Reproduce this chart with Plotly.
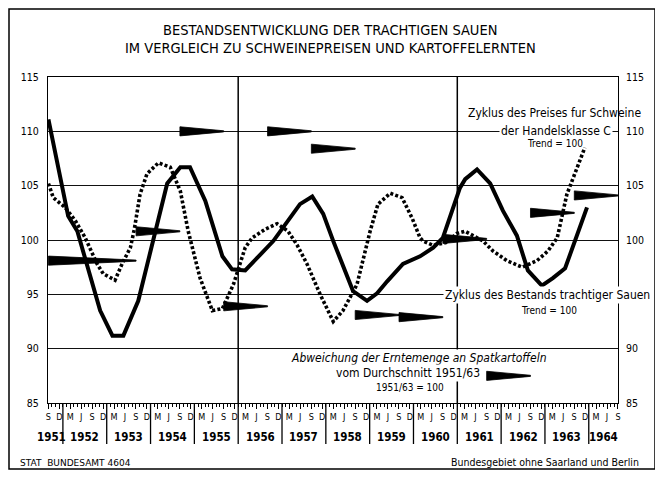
import plotly.graph_objects as go

# ---------------- data (decimal years, index Trend = 100) ----------------
# Zyklus des Bestands trächtiger Sauen (solid line)
sows_x = [1951.67, 1952.12, 1952.33, 1952.58, 1952.85, 1953.13, 1953.38, 1953.72, 1954.04,
          1954.38, 1954.68, 1954.90, 1955.25, 1955.54, 1955.64, 1955.86, 1956.16, 1956.80,
          1956.96, 1957.41, 1957.69, 1957.94, 1958.17, 1958.62, 1958.94, 1959.17, 1959.40,
          1959.76, 1960.15, 1960.45, 1960.67, 1961.06, 1961.18, 1961.45, 1961.75, 1962.04,
          1962.36, 1962.61, 1962.93, 1963.18, 1963.46, 1963.69, 1963.96]
sows_y = [111.1, 102.2, 100.8, 97.2, 93.5, 91.2, 91.2, 94.4, 99.7,
          105.2, 106.7, 106.7, 103.6, 99.9, 98.5, 97.3, 97.2, 99.9,
          100.8, 103.3, 104.0, 102.4, 99.9, 95.3, 94.4, 95.1, 96.2,
          97.8, 98.5, 99.3, 100.2, 104.8, 105.6, 106.5, 105.2, 102.7,
          100.4, 97.2, 95.8, 96.5, 97.4, 99.9, 103.0]

# Zyklus des Preises für Schweine der Handelsklasse C (dotted line)
price_x = [1951.67, 1951.78, 1952.05, 1952.28, 1952.51, 1952.78, 1952.92, 1953.19, 1953.35,
           1953.54, 1953.63, 1953.76, 1953.92, 1954.18, 1954.45, 1954.68, 1954.86, 1954.97,
           1955.13, 1955.41, 1955.64, 1955.89, 1956.00, 1956.16, 1956.32, 1956.62, 1956.89,
           1957.14, 1957.35, 1957.57, 1957.87, 1958.17, 1958.39, 1958.71, 1959.01, 1959.19,
           1959.47, 1959.74, 1959.97, 1960.15, 1960.22, 1960.45, 1960.77, 1960.99, 1961.18,
           1961.47, 1961.59, 1961.81, 1962.13, 1962.48, 1962.82, 1963.07, 1963.28, 1963.50,
           1963.73, 1963.91]
price_y = [105.2, 103.9, 103.0, 101.8, 100.2, 97.8, 96.9, 96.3, 97.8,
           99.3, 101.0, 104.2, 106.1, 107.1, 106.7, 104.5, 100.8, 99.0,
           96.5, 93.5, 93.7, 95.9, 97.3, 99.3, 100.2, 101.0, 101.5,
           100.8, 99.5, 97.8, 95.0, 92.5, 93.5, 95.9, 100.8, 103.3,
           104.3, 103.9, 102.0, 100.2, 99.9, 99.5, 99.8, 100.6, 100.8,
           100.2, 99.9, 99.0, 98.1, 97.5, 98.1, 99.0, 100.2, 104.2,
           106.7, 108.5]

# Abweichung der Erntemenge an Spätkartoffeln (1951/63 = 100), wedges from harvest time
potato_start = [1951.67, 1953.67, 1954.67, 1955.67, 1956.67, 1957.67, 1958.67,
                1959.67, 1960.67, 1961.67, 1962.67, 1963.67]
potato_val = [98.1, 100.8, 110.0, 93.9, 110.0, 108.4, 93.1, 92.9, 100.1, 87.5, 102.5, 104.1]

years = list(range(1951, 1965))
month_offsets = [2 / 12, 5 / 12, 8 / 12, 11 / 12]
month_letters = ["M", "J", "S", "D"]
y_ticks = [85, 90, 95, 100, 105, 110, 115]

X_MIN, X_MAX = 1951.66, 1964.667
Y_MIN, Y_MAX = 85, 115

FONT = "DejaVu Sans Condensed, Liberation Sans Narrow, Arial Narrow, sans-serif"

# ---------------- geometry helpers ----------------
# the page body has an 8px margin, so the figure is placed 8px right/down
OFF = 8
W, H = 663 - OFF, 477 - OFF
L, R, T, B = 48 - OFF, 618 - OFF, 77 - OFF, 403 - OFF


def px(xp):  # reference pixel -> paper x
    return (xp - OFF - L) / (R - L)


def py(yp):  # reference pixel -> paper y
    return (B - (yp - OFF)) / (B - T)


fig = go.Figure()

# potato wedges
wx, wy = [], []
h, tip = 0.42, 0.05
for i, (s, v) in enumerate(zip(potato_start, potato_val)):
    e = potato_start[i + 1] if i + 1 < len(potato_start) else X_MAX
    m = s + 0.3 * (e - s)
    wx += [s, m, e, e, m, s, s, None]
    wy += [v + h, v + 0.72 * h, v + tip, v - tip, v - 0.72 * h, v - h, v + h, None]
fig.add_trace(go.Scatter(x=wx, y=wy, mode="lines", fill="toself", fillcolor="black",
                         line=dict(color="black", width=0.8), hoverinfo="skip", showlegend=False))

fig.add_trace(go.Scatter(x=price_x, y=price_y, mode="lines",
                         line=dict(color="black", width=3.6, dash="3px,2.2px"),
                         showlegend=False))
fig.add_trace(go.Scatter(x=sows_x, y=sows_y, mode="lines",
                         line=dict(color="black", width=4), showlegend=False))
# invisible trace to activate the right axis
fig.add_trace(go.Scatter(x=[X_MIN], y=[100], yaxis="y2", mode="markers",
                         marker=dict(opacity=0), hoverinfo="skip", showlegend=False))

# month ticks
tickvals, ticktext = [], []
minor_vals = []
for yr in years:
    for off, let in zip(month_offsets, month_letters):
        v = yr + off
        if X_MIN - 1e-6 <= v <= X_MAX + 1e-6:
            tickvals.append(v)
            ticktext.append(let)
    for mth in range(12):
        v = yr + mth / 12
        if X_MIN <= v <= X_MAX:
            minor_vals.append(v)

fig.update_layout(
    width=W, height=H,
    margin=dict(l=L, r=W - R, t=T, b=H - B),
    paper_bgcolor="white", plot_bgcolor="white",
    font=dict(family=FONT, color="black", size=11),
    xaxis=dict(range=[X_MIN, X_MAX], showgrid=False, zeroline=False,
               showline=True, mirror=True, linecolor="black", linewidth=1.2,
               tickmode="array", tickvals=tickvals, ticktext=ticktext,
               ticks="outside", ticklen=5, tickcolor="black", tickwidth=1,
               tickfont=dict(size=9, family=FONT),
               minor=dict(tickmode="array", tickvals=minor_vals, ticks="outside",
                          ticklen=3, tickcolor="black")),
    yaxis=dict(range=[Y_MIN, Y_MAX], tickmode="array", tickvals=y_ticks,
               showgrid=True, gridcolor="#111", gridwidth=1, zeroline=False,
               showline=True, mirror=True, linecolor="black", linewidth=1.2,
               ticks="", tickfont=dict(size=10.5, family=FONT), ticklabelstandoff=6),
    yaxis2=dict(range=[Y_MIN, Y_MAX], overlaying="y", side="right", tickmode="array",
                tickvals=y_ticks, showgrid=False, zeroline=False, showline=False,
                ticks="", tickfont=dict(size=10.5, family=FONT), ticklabelstandoff=7),
)

shapes = []
# vertical grid lines at 1956 and 1961
for yr in [1956, 1961]:
    shapes.append(dict(type="line", xref="x", yref="paper", x0=yr, x1=yr, y0=0, y1=1,
                       line=dict(color="black", width=1.5)))
# year separators below the axis
for yr in years[1:]:
    shapes.append(dict(type="line", xref="x", yref="paper", x0=yr, x1=yr,
                       y0=0, y1=py(444), line=dict(color="black", width=1.3)))
# outer frame
shapes.append(dict(type="rect", xref="paper", yref="paper",
                   x0=px(9), x1=px(655), y0=py(469), y1=py(9),
                   line=dict(color="black", width=1.5)))
fig.update_layout(shapes=shapes)


def note(xp, yp, text, size=12, xanchor="center", bg=None, family=FONT):
    d = dict(x=px(xp), y=py(yp), xref="paper", yref="paper", showarrow=False,
             xanchor=xanchor, yanchor="middle", text=text,
             font=dict(size=size, family=family))
    if bg:
        d.update(bgcolor=bg, borderpad=1)
    return d


ann = []
# year labels
for yr in years:
    a = max(yr, X_MIN)
    b = min(yr + 1, X_MAX)
    ann.append(dict(x=(a + b) / 2 - (0.1 if yr == 1951 else 0), y=py(437), xref="x", yref="paper",
                    text="<b>%d</b>" % yr, showarrow=False, xanchor="center", yanchor="middle",
                    font=dict(size=11.5, family=FONT)))

# titles
ann.append(note(330, 30, "BESTANDSENTWICKLUNG DER TRACHTIGEN SAUEN", size=14.5))
ann.append(note(330, 48, "IM VERGLEICH ZU SCHWEINEPREISEN UND KARTOFFELERNTEN", size=14.5))

# series labels
ann.append(note(643, 113, "Zyklus des Preises fur Schweine", xanchor="right"))
ann.append(note(613, 131, "der Handelsklasse C", xanchor="right", bg="white"))
ann.append(note(555, 143, "Trend = 100", size=10))
ann.append(note(652, 295, "Zyklus des Bestands trachtiger Sauen", xanchor="right", bg="white"))
ann.append(note(549, 310, "Trend = 100", size=10))
ann.append(note(419, 358, "<i>Abweichung der Erntemenge an Spatkartoffeln</i>", bg="white"))
ann.append(note(408, 373, "vom Durchschnitt 1951/63", bg="white"))
ann.append(note(410, 387, "1951/63 = 100", size=10, bg="white"))

# footer
ann.append(note(18, 463, "STAT  BUNDESAMT 4604", size=9, xanchor="left",
                family="DejaVu Sans, sans-serif"))
ann.append(note(641, 462, "Bundesgebiet ohne Saarland und Berlin", size=10.5, xanchor="right"))
fig.update_layout(annotations=ann)

fig.write_html("out.html")
